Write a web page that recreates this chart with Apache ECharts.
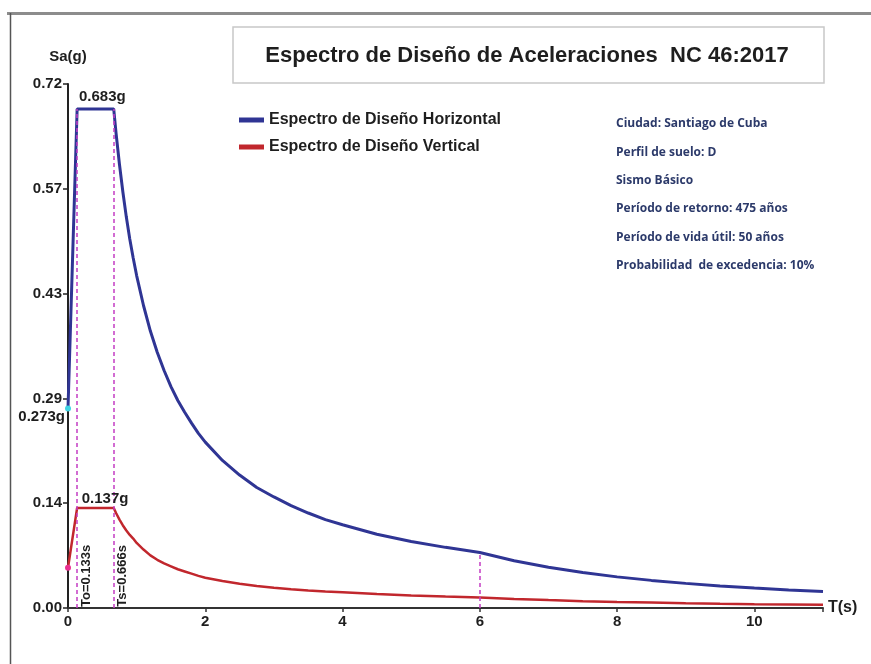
<!DOCTYPE html>
<html>
<head>
<meta charset="utf-8">
<script src="https://cdn.jsdelivr.net/npm/echarts@6/dist/echarts.min.js"></script>
<style>html,body{margin:0;padding:0;background:#fff}#c{width:871px;height:664px}</style>
</head>
<body>
<div id="c"></div>
<script>
// Period values T (s)
var periods = [0, 0.133, 0.666, 0.7, 0.75, 0.8, 0.85, 0.9, 0.95, 1.0, 1.1, 1.2, 1.3, 1.4, 1.5, 1.6, 1.7, 1.8, 1.9, 2.0, 2.25, 2.5, 2.75, 3.0, 3.25, 3.5, 3.75, 4.0, 4.5, 5.0, 5.5, 6.0, 6.5, 7.0, 7.5, 8.0, 8.5, 9.0, 9.5, 10.0, 10.5, 11.0];
// Horizontal design spectrum Sa (g)
var saHorizontal = [0.273, 0.683, 0.683, 0.650, 0.607, 0.569, 0.535, 0.505, 0.479, 0.455, 0.414, 0.379, 0.350, 0.325, 0.303, 0.284, 0.268, 0.253, 0.239, 0.227, 0.202, 0.182, 0.165, 0.152, 0.140, 0.130, 0.121, 0.114, 0.101, 0.091, 0.083, 0.076, 0.0646, 0.0557, 0.0485, 0.0426, 0.0378, 0.0337, 0.0302, 0.0273, 0.0248, 0.0226];
// Vertical design spectrum Sa (g)
var saVertical = [0.055, 0.137, 0.137, 0.130, 0.121, 0.113, 0.106, 0.100, 0.095, 0.089, 0.080, 0.072, 0.066, 0.061, 0.057, 0.053, 0.050, 0.047, 0.044, 0.0415, 0.0370, 0.0333, 0.0302, 0.0278, 0.0257, 0.0240, 0.0226, 0.0214, 0.0191, 0.0172, 0.0157, 0.0145, 0.0124, 0.0108, 0.0094, 0.0083, 0.0074, 0.0066, 0.0059, 0.0053, 0.0049, 0.0045];
var yTickLabels = ['0.00', '0.14', '0.29', '0.43', '0.57', '0.72'];
var xTickLabels = ['0', '2', '4', '6', '8', '10'];
var seriesNames = ['Espectro de Diseño Horizontal', 'Espectro de Diseño Vertical'];
var infoLines = ['Ciudad: Santiago de Cuba', 'Perfil de suelo: D', 'Sismo Básico', 'Período de retorno: 475 años', 'Período de vida útil: 50 años', 'Probabilidad  de excedencia: 10%'];
var T0 = 0.133, Ts = 0.666, TL = 6;
var saMaxH = 0.683, saMaxV = 0.137, sa0H = 0.273, sa0V = 0.055;
var saAtTL = 0.076;
var yMax = 0.71715, yInterval = 0.14343;

function pairs(xs, ys) { return xs.map(function (x, i) { return [x, ys[i]]; }); }

var chart = echarts.init(document.getElementById('c'), null, { renderer: 'canvas' });
var F = '"Liberation Sans", Arial, sans-serif';
var magenta = '#c43cc4';
var ink = '#1e1e1e';

var infoGraphics = infoLines.map(function (t, i) {
  return {
    type: 'text', left: 616, top: 118 + i * 28.3,
    style: { text: t, font: 'bold 12px "Open Sans", Lato, sans-serif', fill: '#2c3a6a' }
  };
});

chart.setOption({
  animation: false,
  backgroundColor: '#fff',
  grid: { left: 68, right: 48, top: 84, bottom: 56, containLabel: false },
  xAxis: {
    type: 'value', min: 0, max: 11, interval: 2,
    name: 'T(s)', nameLocation: 'end', nameGap: 5,
    nameTextStyle: { fontFamily: F, fontWeight: 'bold', fontSize: 16, color: ink, verticalAlign: 'middle' },
    axisLine: { show: true, lineStyle: { color: '#333', width: 2 } },
    axisTick: { show: true, length: 4, lineStyle: { color: '#333', width: 1.5 } },
    axisLabel: {
      fontFamily: F, fontWeight: 'bold', fontSize: 15, color: ink, margin: 6,
      formatter: function (v) { var i = Math.round(v / 2); return xTickLabels[i] !== undefined ? xTickLabels[i] : ''; }
    },
    splitLine: { show: false }
  },
  yAxis: {
    type: 'value', min: 0, max: yMax, interval: yInterval,
    name: 'Sa(g)', nameLocation: 'end', nameGap: 20,
    nameTextStyle: { fontFamily: F, fontWeight: 'bold', fontSize: 15, color: ink, align: 'center' },
    axisLine: { show: true, lineStyle: { color: '#222', width: 2 } },
    axisTick: { show: true, length: 5, lineStyle: { color: '#222', width: 1.5 } },
    axisLabel: {
      fontFamily: F, fontWeight: 'bold', fontSize: 15, color: ink, margin: 6,
      formatter: function (v, idx) { return yTickLabels[idx] !== undefined ? yTickLabels[idx] : v.toFixed(2); }
    },
    splitLine: { show: false }
  },
  legend: {
    orient: 'vertical', left: 234, top: 107, itemGap: 11, itemWidth: 25, itemHeight: 5,
    icon: 'rect',
    textStyle: { fontFamily: F, fontWeight: 'bold', fontSize: 16, color: ink },
    data: seriesNames
  },
  series: [
    {
      name: seriesNames[0], type: 'line', data: pairs(periods, saHorizontal),
      showSymbol: false, symbol: 'none', color: '#2f3594', z: 3,
      lineStyle: { color: '#2f3594', width: 3 },
      markLine: {
        silent: true, symbol: 'none', label: { show: false },
        lineStyle: { color: magenta, type: [4, 3], width: 1.5 },
        data: [
          [{ coord: [T0, 0] }, { coord: [T0, saMaxH] }],
          [{ coord: [Ts, 0] }, { coord: [Ts, saMaxH] }],
          [{ coord: [TL, 0] }, { coord: [TL, saAtTL] }]
        ]
      }
    },
    {
      name: seriesNames[1], type: 'line', data: pairs(periods, saVertical),
      showSymbol: false, symbol: 'none', color: '#c1272d', z: 3,
      lineStyle: { color: '#c1272d', width: 2.5 }
    },
    {
      type: 'scatter', clip: false, z: 5, symbolSize: 6,
      itemStyle: { opacity: 1 },
      data: [
        { value: [0, sa0H], itemStyle: { color: '#3fd3e3', opacity: 1 } },
        { value: [0, sa0V], itemStyle: { color: '#ea2f8f', opacity: 1 } }
      ]
    },
    {
      type: 'scatter', clip: false, z: 6, symbol: 'circle', symbolSize: 0.01,
      itemStyle: { color: ink, opacity: 1 },
      label: { show: true, fontFamily: F, fontWeight: 'bold', fontSize: 15, color: ink },
      data: [
        { value: [0.5, saMaxH], label: { formatter: '0.683g', position: 'top', distance: 5 } },
        { value: [0.54, saMaxV], label: { formatter: '0.137g', position: 'top', distance: 2 } },
        { value: [0, sa0H], label: { formatter: '0.273g', position: 'left', distance: 3, offset: [0, 8] } },
        { value: [0.262, 0.044], label: { formatter: 'To=0.133s', position: 'inside', rotate: 90, fontWeight: 'bold', fontSize: 13 } },
        { value: [0.80, 0.044], label: { formatter: 'Ts=0.666s', position: 'inside', rotate: 90, fontWeight: 'bold', fontSize: 13 } }
      ]
    }
  ],
  graphic: [
    { type: 'rect', shape: { x: 7, y: 12, width: 864, height: 3 }, style: { fill: '#8c8c8c' }, silent: true },
    { type: 'line', shape: { x1: 10.5, y1: 13, x2: 10.5, y2: 664 }, style: { stroke: '#555', lineWidth: 1.5 }, silent: true },
    { type: 'rect', shape: { x: 233, y: 27, width: 591, height: 56 }, style: { fill: '#fff', stroke: '#c8c8c8', lineWidth: 1.5 }, silent: true },
    {
      type: 'text', x: 527, y: 56,
      style: { text: 'Espectro de Diseño de Aceleraciones  NC 46:2017', font: 'bold 22px "Liberation Sans", Arial, sans-serif', fill: ink, textAlign: 'center', textVerticalAlign: 'middle' }
    }
  ].concat(infoGraphics)
});
</script>
</body>
</html>
